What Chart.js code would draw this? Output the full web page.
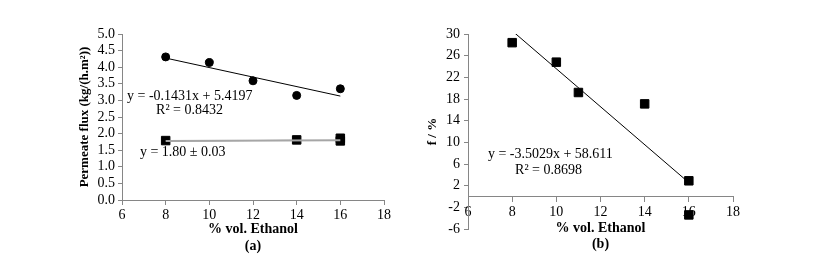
<!DOCTYPE html>
<html>
<head>
<meta charset="utf-8">
<script src="https://cdn.jsdelivr.net/npm/chart.js@4"></script>
<style>
  body { margin: 0; background: #fff; }
  #wrap { position: relative; width: 813px; height: 256px; }
  canvas { position: absolute; top: 0; }
  #chartA { left: 0; }
  #chartB { left: 400px; }
</style>
</head>
<body>
<div id="wrap">
  <canvas id="chartA" width="410" height="256"></canvas>
  <canvas id="chartB" width="413" height="256"></canvas>
</div>
<script>
// (a) permeate flux
const fluxCircleX = [8, 10, 12, 14, 16];
const fluxCircleY = [4.31, 4.14, 3.59, 3.15, 3.35];
const fluxSquareX = [8, 14, 16, 16];
const fluxSquareY = [1.79, 1.81, 1.86, 1.78];
const fluxFitX = [8, 16];
const fluxFitY = [4.275, 3.13];
const fluxFlatX = [8, 16];
const fluxFlatY = [1.78, 1.80];
const fluxFlatDarkX = [8.4, 13.9];
const fluxFlatDarkY = [1.785, 1.795];
const fluxYTicks = [0, 0.5, 1, 1.5, 2, 2.5, 3, 3.5, 4, 4.5, 5];

// (b) f / %
const fX = [8, 10, 11, 14, 16, 16];
const fY = [28.4, 24.8, 19.2, 17.1, 2.9, -3.4];
const fFitX = [8, 16];
const fFitY = [30.588, 2.565];
const fYTicks = [-6, -2, 2, 6, 10, 14, 18, 22, 26, 30];

const xTicks = [6, 8, 10, 12, 14, 16, 18];

const serif = 'Liberation Serif';
const axisGray = '#868686';

function pts(xs, ys) {
    return xs.map((x, i) => ({ x: x, y: ys[i] }));
}

// equation labels, placed in data coordinates
function notesPlugin(notes) {
    return {
        id: 'notes',
        afterDatasetsDraw(chart) {
            const ctx = chart.ctx;
            const sx = chart.scales.x;
            const sy = chart.scales.y;
            ctx.save();
            ctx.fillStyle = '#000';
            ctx.font = '14px "' + serif + '"';
            ctx.textAlign = 'left';
            ctx.textBaseline = 'middle';
            notes.forEach(n => {
                ctx.fillText(n.text, sx.getPixelForValue(n.x), sy.getPixelForValue(n.y));
            });
            ctx.restore();
        }
    };
}

function xScale(label, position, height) {
    return {
        type: 'linear',
        position: position,
        min: 6,
        max: 18,
        afterBuildTicks: s => { s.ticks = xTicks.map(v => ({ value: v })); },
        afterFit: s => { s.height = height; },
        ticks: { color: '#000', font: { family: serif, size: 14 }, padding: 2, maxRotation: 0, autoSkip: false },
        grid: { drawOnChartArea: false, drawTicks: true, tickLength: 5, color: axisGray },
        border: { display: true, color: axisGray },
        title: {
            display: true,
            text: ['% vol. Ethanol', label],
            color: '#000',
            font: { family: serif, size: 14, weight: 'bold', lineHeight: 1.15 },
            padding: { top: 0, bottom: position === 'bottom' ? 2 : 0 }
        }
    };
}

function yScale(title, min, max, tickList, width, titlePad, tickPad, digits) {
    return {
        type: 'linear',
        min: min,
        max: max,
        afterBuildTicks: s => { s.ticks = tickList.map(v => ({ value: v })); },
        afterFit: s => { s.width = width; },
        ticks: {
            color: '#000',
            font: { family: serif, size: 14 },
            padding: tickPad,
            autoSkip: false,
            callback: v => v.toFixed(digits)
        },
        grid: { drawOnChartArea: false, drawTicks: true, tickLength: 4, color: axisGray },
        border: { display: true, color: axisGray },
        title: {
            display: true,
            text: title,
            color: '#000',
            font: { family: serif, size: 13, weight: 'bold', lineHeight: 1.1 },
            padding: { top: titlePad, bottom: 0 }
        }
    };
}

const common = {
    responsive: false,
    devicePixelRatio: 1,
    animation: false,
    plugins: { legend: { display: false }, tooltip: { enabled: false } }
};

new Chart(document.getElementById('chartA'), {
    type: 'scatter',
    data: {
        datasets: [
            { data: pts(fluxFlatX, fluxFlatY), showLine: true, borderColor: '#a6a6a6', borderWidth: 2, pointRadius: 0 },
            { data: pts(fluxFlatDarkX, fluxFlatDarkY), showLine: true, borderColor: '#000', borderWidth: 1, pointRadius: 0 },
            { data: pts(fluxFitX, fluxFitY), showLine: true, borderColor: '#000', borderWidth: 1, pointRadius: 0 },
            { data: pts(fluxCircleX, fluxCircleY), pointStyle: 'circle', pointRadius: 4, backgroundColor: '#000', borderColor: '#000' },
            { data: pts(fluxSquareX, fluxSquareY), pointStyle: 'rect', pointRadius: 6, backgroundColor: '#000', borderColor: '#000' }
        ]
    },
    options: {
        ...common,
        layout: { padding: { top: 34, right: 26, left: 0, bottom: 0 } },
        scales: {
            x: xScale('(a)', 'bottom', 56),
            y: yScale('Permeate flux (kg/(h.m²))', 0, 5, fluxYTicks, 122, 77, 3, 1)
        }
    },
    plugins: [notesPlugin([
        { text: 'y = -0.1431x + 5.4197', x: 6.23, y: 3.11 },
        { text: 'R² = 0.8432', x: 7.56, y: 2.69 },
        { text: 'y = 1.80 ± 0.03', x: 6.82, y: 1.43 }
    ])]
});

new Chart(document.getElementById('chartB'), {
    type: 'scatter',
    data: {
        datasets: [
            { data: pts(fFitX, fFitY), showLine: true, borderColor: '#000', borderWidth: 1, pointRadius: 0 },
            { data: pts(fX, fY), pointStyle: 'rect', pointRadius: 6, backgroundColor: '#000', borderColor: '#000' }
        ]
    },
    options: {
        ...common,
        layout: { padding: { top: 34, right: 80, left: 0, bottom: 27 } },
        scales: {
            x: xScale('(b)', { y: 0 }, 56),
            y: yScale('f / %', -6, 30, fYTicks, 68, 25, 4, 0)
        }
    },
    plugins: [notesPlugin([
        { text: 'y = -3.5029x + 58.611', x: 6.9, y: 7.7 },
        { text: 'R² = 0.8698', x: 8.13, y: 4.9 }
    ])]
});
</script>
</body>
</html>
